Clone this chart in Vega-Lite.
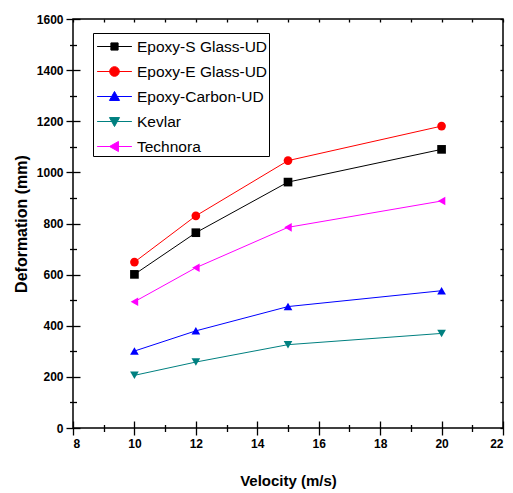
{
  "$schema": "https://vega.github.io/schema/vega-lite/v6.json",
  "width": 430,
  "height": 409,
  "autosize": {"type": "none"},
  "padding": {"left": 73, "top": 19, "right": 10, "bottom": 65},
  "config": {
    "view": {"stroke": "black", "strokeWidth": 1.5},
    "font": "Liberation Sans",
    "axis": {
      "domain": false,
      "grid": false,
      "tickColor": "black",
      "tickWidth": 1.3,
      "labelFont": "Liberation Sans",
      "labelFontWeight": "bold",
      "labelFontSize": 12,
      "labelColor": "black",
      "titleFont": "Liberation Sans",
      "titleFontWeight": "bold",
      "titleColor": "black"
    }
  },
  "data": {
    "values": [
      {"v": 10, "d": 601, "s": "Epoxy-S Glass-UD"},
      {"v": 12, "d": 764, "s": "Epoxy-S Glass-UD"},
      {"v": 15, "d": 962, "s": "Epoxy-S Glass-UD"},
      {"v": 20, "d": 1090, "s": "Epoxy-S Glass-UD"},
      {"v": 10, "d": 649, "s": "Epoxy-E Glass-UD"},
      {"v": 12, "d": 830, "s": "Epoxy-E Glass-UD"},
      {"v": 15, "d": 1046, "s": "Epoxy-E Glass-UD"},
      {"v": 20, "d": 1181, "s": "Epoxy-E Glass-UD"},
      {"v": 10, "d": 301, "s": "Epoxy-Carbon-UD"},
      {"v": 12, "d": 380, "s": "Epoxy-Carbon-UD"},
      {"v": 15, "d": 475, "s": "Epoxy-Carbon-UD"},
      {"v": 20, "d": 537, "s": "Epoxy-Carbon-UD"},
      {"v": 10, "d": 206, "s": "Kevlar"},
      {"v": 12, "d": 258, "s": "Kevlar"},
      {"v": 15, "d": 326, "s": "Kevlar"},
      {"v": 20, "d": 370, "s": "Kevlar"},
      {"v": 10, "d": 494, "s": "Technora"},
      {"v": 12, "d": 627, "s": "Technora"},
      {"v": 15, "d": 785, "s": "Technora"},
      {"v": 20, "d": 888, "s": "Technora"}
    ]
  },
  "resolve": {
    "scale": {"shape": "independent", "fill": "independent", "stroke": "independent"},
    "axis": {"x": "independent", "y": "independent"}
  },
  "layer": [
    {
      "mark": {"type": "line", "strokeWidth": 1},
      "encoding": {
        "x": {
          "field": "v", "type": "quantitative",
          "scale": {"domain": [8, 22], "nice": false, "zero": false},
          "axis": {
            "orient": "bottom",
            "values": [8, 10, 12, 14, 16, 18, 20, 22],
            "tickSize": 14, "offset": -7, "labelPadding": 3,
            "title": "Velocity (m/s)", "titleFontSize": 15, "titlePadding": 24
          }
        },
        "y": {
          "field": "d", "type": "quantitative",
          "scale": {"domain": [0, 1600], "nice": false},
          "axis": {
            "orient": "left", "format": "d",
            "values": [0, 200, 400, 600, 800, 1000, 1200, 1400, 1600],
            "tickSize": 14, "offset": -7, "labelPadding": 3,
            "title": "Deformation (mm)", "titleFontSize": 16, "titlePadding": 7
          }
        },
        "color": {
          "field": "s", "type": "nominal", "legend": null,
          "scale": {
            "domain": ["Epoxy-S Glass-UD", "Epoxy-E Glass-UD", "Epoxy-Carbon-UD", "Kevlar", "Technora"],
            "range": ["#000000", "#ff0000", "#0000ff", "#008080", "#ff00ff"]
          }
        }
      }
    },
    {
      "mark": {"type": "point", "filled": true, "opacity": 1, "size": 75},
      "encoding": {
        "x": {
          "field": "v", "type": "quantitative",
          "axis": {
            "orient": "top",
            "values": [8, 9, 10, 11, 12, 13, 14, 15, 16, 17, 18, 19, 20, 21, 22],
            "tickSize": 3, "offset": -3, "labels": false, "title": null
          }
        },
        "y": {
          "field": "d", "type": "quantitative",
          "axis": {
            "orient": "right",
            "values": [0, 100, 200, 300, 400, 500, 600, 700, 800, 900, 1000, 1100, 1200, 1300, 1400, 1500, 1600],
            "tickSize": 3, "offset": -3, "labels": false, "title": null
          }
        },
        "color": {"field": "s", "type": "nominal", "legend": null},
        "shape": {
          "field": "s", "type": "nominal", "legend": null,
          "scale": {
            "domain": ["Epoxy-S Glass-UD", "Epoxy-E Glass-UD", "Epoxy-Carbon-UD", "Kevlar", "Technora"],
            "range": ["square", "circle", "triangle-up", "triangle-down", "triangle-left"]
          }
        }
      }
    },
    {
      "transform": [{"filter": "datum.v > 100"}],
      "mark": {"type": "point", "filled": true, "opacity": 1, "strokeWidth": 1},
      "encoding": {
        "x": {
          "field": "v", "type": "quantitative",
          "axis": {
            "orient": "bottom",
            "values": [9, 11, 13, 15, 17, 19, 21],
            "tickSize": 7, "offset": -3.5, "labels": false, "title": null
          }
        },
        "y": {
          "field": "d", "type": "quantitative",
          "axis": {
            "orient": "left",
            "values": [100, 300, 500, 700, 900, 1100, 1300, 1500],
            "tickSize": 7, "offset": -3.5, "labels": false, "title": null
          }
        },
        "shape": {
          "field": "s", "type": "nominal",
          "scale": {
            "domain": ["Epoxy-S Glass-UD", "Epoxy-E Glass-UD", "Epoxy-Carbon-UD", "Kevlar", "Technora"],
            "range": [
              "M-1.45,0H1.45M-0.3,-0.3H0.3V0.3H-0.3Z",
              "M-1.45,0H1.45M0.4,0A0.4,0.4 0 1,1 -0.4,0A0.4,0.4 0 1,1 0.4,0Z",
              "M-1.45,0H1.45M0,-0.42L0.42,0.33L-0.42,0.33Z",
              "M-1.45,0H1.45M0,0.42L0.42,-0.33L-0.42,-0.33Z",
              "M-1.45,0H1.45M-0.42,0L0.33,-0.42L0.33,0.42Z"
            ]
          },
          "legend": {
            "orient": "none", "legendX": 20, "legendY": 14, "title": null,
            "strokeColor": "black", "fillColor": "white", "padding": 1, "rowPadding": 4,
            "symbolSize": 576, "symbolOffset": 8, "labelOffset": 10,
            "labelFont": "Liberation Sans", "labelFontSize": 15.5, "labelColor": "black",
            "symbolStrokeWidth": 1, "labelLimit": 300
          }
        },
        "fill": {
          "field": "s", "type": "nominal",
          "scale": {
            "domain": ["Epoxy-S Glass-UD", "Epoxy-E Glass-UD", "Epoxy-Carbon-UD", "Kevlar", "Technora"],
            "range": ["#000000", "#ff0000", "#0000ff", "#008080", "#ff00ff"]
          },
          "legend": {
            "orient": "none", "legendX": 20, "legendY": 14, "title": null,
            "strokeColor": "black", "fillColor": "white", "padding": 1, "rowPadding": 4,
            "symbolSize": 576, "symbolOffset": 8, "labelOffset": 10,
            "labelFont": "Liberation Sans", "labelFontSize": 15.5, "labelColor": "black",
            "symbolStrokeWidth": 1, "labelLimit": 300
          }
        },
        "stroke": {
          "field": "s", "type": "nominal",
          "scale": {
            "domain": ["Epoxy-S Glass-UD", "Epoxy-E Glass-UD", "Epoxy-Carbon-UD", "Kevlar", "Technora"],
            "range": ["#000000", "#ff0000", "#0000ff", "#008080", "#ff00ff"]
          },
          "legend": {
            "orient": "none", "legendX": 20, "legendY": 14, "title": null,
            "strokeColor": "black", "fillColor": "white", "padding": 1, "rowPadding": 4,
            "symbolSize": 576, "symbolOffset": 8, "labelOffset": 10,
            "labelFont": "Liberation Sans", "labelFontSize": 15.5, "labelColor": "black",
            "symbolStrokeWidth": 1, "labelLimit": 300
          }
        }
      }
    }
  ]
}
